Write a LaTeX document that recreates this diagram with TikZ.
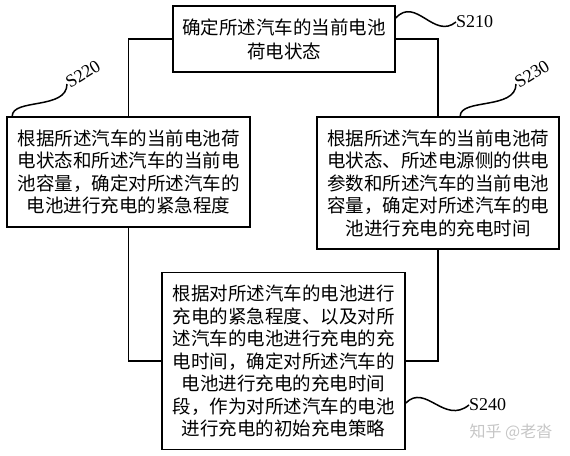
\documentclass[tikz,border=0pt]{standalone}
\usepackage{fontspec}
\setmainfont{Liberation Serif}
\newfontfamily\cjk{Noto Sans CJK SC}
\usetikzlibrary{positioning}

\tikzset{
  stepbox/.style={draw,line width=1.6pt,align=center,inner sep=0pt,
    font=\cjk\fontsize{18.5}{22.5}\selectfont},
  tag/.style={font=\fontsize{18}{20}\selectfont,inner sep=0pt},
  wave/.style={line width=1.5pt}
}

\begin{document}
\begin{tikzpicture}[x=1pt,y=-1pt,line join=miter]
  \useasboundingbox (0,0) rectangle (570,455);
  \node[stepbox,minimum width=222pt,minimum height=66pt,
    font=\cjk\fontsize{18.5}{24}\selectfont] (s210) at (284,39)
    {确定所述汽车的当前电池\\荷电状态};
  \node[stepbox,minimum width=243pt,minimum height=110pt] (s220) at (128.5,172)
    {根据所述汽车的当前电池荷\\电状态和所述汽车的当前电\\池容量，确定对所述汽车的\\电池进行充电的紧急程度};
  \node[stepbox,minimum width=242pt,minimum height=132pt] (s230) at (438,183)
    {根据所述汽车的当前电池荷\\电状态、所述电源侧的供电\\参数和所述汽车的当前电池\\容量，确定对所述汽车的电\\池进行充电的充电时间};
  \node[stepbox,minimum width=243pt,minimum height=177pt] (s240) at (283.5,361)
    {根据对所述汽车的电池进行\\充电的紧急程度、以及对所\\述汽车的电池进行充电的充\\电时间，确定对所述汽车的\\电池进行充电的充电时间\\段，作为对所述汽车的电池\\进行充电的初始充电策略};

  % step labels
  \node[tag,anchor=west] (l210) at (456,22) {S210};
  \node[tag,anchor=west,rotate=32] (l220) at (67,84) {S220};
  \node[tag,anchor=west,rotate=32] (l230) at (516,84) {S230};
  \node[tag,anchor=west] (l240) at (469,405) {S240};
  \node[font=\cjk\fontsize{16}{18}\selectfont,text=gray!45] (mark) at (511,432)
    {知乎 @老沓};

  % flow lines
  \draw[line width=1.6pt] (s210.west) -| (s220.north);
  \draw[line width=1.6pt] (s210.east) -| (s230.north);
  \draw[line width=1.6pt] (s220.south) |- (s240.west);
  \draw[line width=1.6pt] (s230.south) |- (s240.east);

  % waves to labels
  \draw[wave] (s210.east |- 0,18) .. controls +(20,-22) and +(-22,18) .. (l210.west);
  \draw[wave] (s220.north west) ++(6,0) .. controls +(0,-18) and +(0,26) .. (l220.west);
  \draw[wave] (s230.north west) ++(144,0) .. controls +(0,-18) and +(0,26) .. (l230.west);
  \draw[wave] (s240.east |- 0,403) .. controls +(20,-20) and +(-25,20) .. (l240.west);
\end{tikzpicture}
\end{document}
